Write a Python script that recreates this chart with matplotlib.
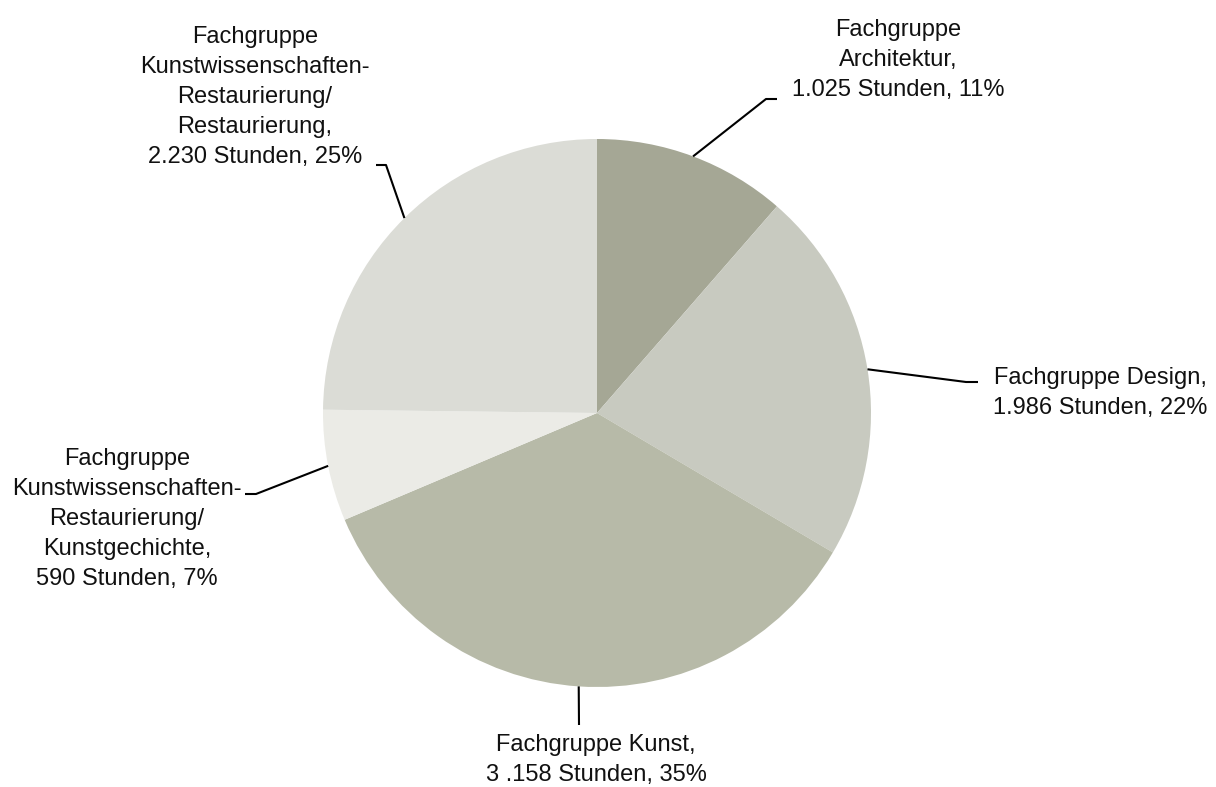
import numpy as np
import matplotlib
matplotlib.use('Agg')
import matplotlib.pyplot as plt

# Stunden je Fachgruppe (im Uhrzeigersinn ab 12 Uhr)
groups = ['Architektur', 'Design', 'Kunst', 'Kunstgeschichte', 'Restaurierung']
hours = [1025, 1986, 3158, 590, 2230]
labels = [
    'Fachgruppe\nArchitektur,\n1.025 Stunden, 11%',
    'Fachgruppe Design,\n1.986 Stunden, 22%',
    'Fachgruppe Kunst,\n3 .158 Stunden, 35%',
    'Fachgruppe\nKunstwissenschaften-\nRestaurierung/\nKunstgechichte,\n590 Stunden, 7%',
    'Fachgruppe\nKunstwissenschaften-\nRestaurierung/\nRestaurierung,\n2.230 Stunden, 25%',
]
colors = ['#a5a795', '#c8cac0', '#b7baa8', '#ebebe6', '#dbdcd6']

W, H = 1216, 787
cx, cy, r = 597, 413, 274

# label placement (pixel coords, y from top): text centre, elbow, end of leader
text_pos = [(898, 60), (1100, 393), (596, 760), (127, 519), (255, 97)]
elbows = [(766, 99), (966, 382), (579, 725), (256, 494), (386, 165)]
ends = [(777, 99), (978, 382), (579, 725), (245, 494), (376, 165)]

fig = plt.figure(figsize=(W / 100, H / 100), dpi=100)
ax = fig.add_axes([0, 0, 1, 1])

ax.pie(hours, colors=colors, startangle=90, counterclock=False,
       center=(cx, H - cy), radius=r, frame=True,
       wedgeprops=dict(linewidth=0))

ax.set_xlim(0, W)
ax.set_ylim(0, H)
ax.set_aspect('equal')
ax.axis('off')

total = sum(hours)
cum = np.cumsum([0] + hours[:-1])
for i, h in enumerate(hours):
    frac = (cum[i] + h / 2) / total
    ang = np.deg2rad(frac * 360)
    x0 = cx + r * np.sin(ang)
    y0 = cy - r * np.cos(ang)
    xs = [x0, elbows[i][0], ends[i][0]]
    ys = [H - y0, H - elbows[i][1], H - ends[i][1]]
    ax.plot(xs, ys, color='black', lw=1.5, solid_capstyle='butt')
    tx, ty = text_pos[i]
    ax.text(tx, H - ty, labels[i], ha='center', va='center', multialignment='center',
            fontsize=17, family='Liberation Sans', linespacing=1.48, color='#111111')

fig.savefig('out.png', dpi=100, facecolor='white')
